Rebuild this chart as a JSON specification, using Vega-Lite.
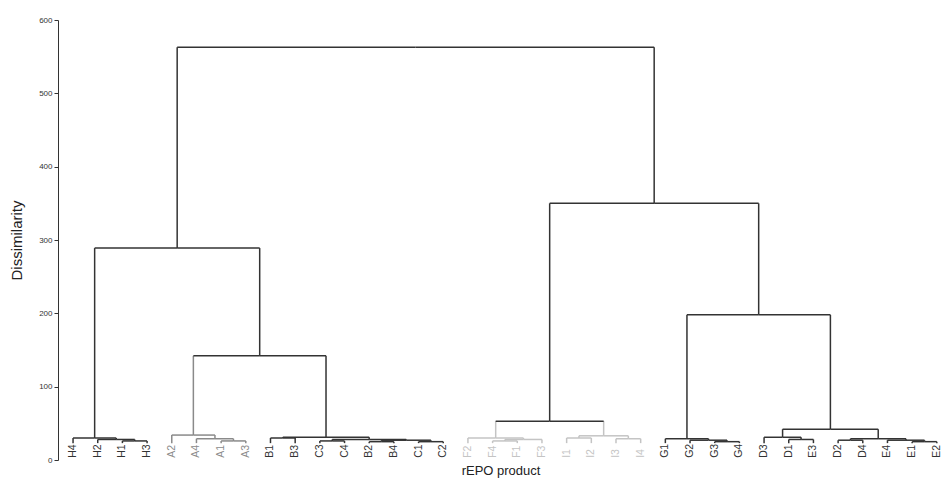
{
  "$schema": "https://vega.github.io/schema/vega-lite/v6.json",
  "width": 885,
  "height": 440,
  "autosize": {"type": "none"},
  "padding": {"left": 58, "top": 20, "right": 0, "bottom": 25},
  "background": "white",
  "config": {"view": {"stroke": null}, "font": "Liberation Sans"},
  "datasets": {
    "nodes": [
      {"id": "H4", "x": 0, "h": 23, "parent": "nH", "cluster": "H", "leaf": true},
      {"id": "H2", "x": 1, "h": 23, "parent": "nH213", "cluster": "H", "leaf": true},
      {"id": "H1", "x": 2, "h": 23, "parent": "nH13", "cluster": "H", "leaf": true},
      {"id": "H3", "x": 3, "h": 23, "parent": "nH13", "cluster": "H", "leaf": true},
      {"id": "A2", "x": 4, "h": 23, "parent": "nA", "cluster": "A", "leaf": true},
      {"id": "A4", "x": 5, "h": 23, "parent": "nA413", "cluster": "A", "leaf": true},
      {"id": "A1", "x": 6, "h": 23, "parent": "nA13", "cluster": "A", "leaf": true},
      {"id": "A3", "x": 7, "h": 23, "parent": "nA13", "cluster": "A", "leaf": true},
      {"id": "B1", "x": 8, "h": 23, "parent": "nB13", "cluster": "BC", "leaf": true},
      {"id": "B3", "x": 9, "h": 23, "parent": "nB13", "cluster": "BC", "leaf": true},
      {"id": "C3", "x": 10, "h": 23, "parent": "nC34", "cluster": "BC", "leaf": true},
      {"id": "C4", "x": 11, "h": 23, "parent": "nC34", "cluster": "BC", "leaf": true},
      {"id": "B2", "x": 12, "h": 23, "parent": "nB24", "cluster": "BC", "leaf": true},
      {"id": "B4", "x": 13, "h": 23, "parent": "nB24", "cluster": "BC", "leaf": true},
      {"id": "C1", "x": 14, "h": 23, "parent": "nC12", "cluster": "BC", "leaf": true},
      {"id": "C2", "x": 15, "h": 23, "parent": "nC12", "cluster": "BC", "leaf": true},
      {"id": "F2", "x": 16, "h": 23, "parent": "nF", "cluster": "F", "leaf": true},
      {"id": "F4", "x": 17, "h": 23, "parent": "nF41", "cluster": "F", "leaf": true},
      {"id": "F1", "x": 18, "h": 23, "parent": "nF41", "cluster": "F", "leaf": true},
      {"id": "F3", "x": 19, "h": 23, "parent": "nF413", "cluster": "F", "leaf": true},
      {"id": "I1", "x": 20, "h": 23, "parent": "nI12", "cluster": "I", "leaf": true},
      {"id": "I2", "x": 21, "h": 23, "parent": "nI12", "cluster": "I", "leaf": true},
      {"id": "I3", "x": 22, "h": 23, "parent": "nI34", "cluster": "I", "leaf": true},
      {"id": "I4", "x": 23, "h": 23, "parent": "nI34", "cluster": "I", "leaf": true},
      {"id": "G1", "x": 24, "h": 23, "parent": "nG", "cluster": "G", "leaf": true},
      {"id": "G2", "x": 25, "h": 23, "parent": "nG234", "cluster": "G", "leaf": true},
      {"id": "G3", "x": 26, "h": 23, "parent": "nG34", "cluster": "G", "leaf": true},
      {"id": "G4", "x": 27, "h": 23, "parent": "nG34", "cluster": "G", "leaf": true},
      {"id": "D3", "x": 28, "h": 23, "parent": "nD", "cluster": "DE", "leaf": true},
      {"id": "D1", "x": 29, "h": 23, "parent": "nD1E3", "cluster": "DE", "leaf": true},
      {"id": "E3", "x": 30, "h": 23, "parent": "nD1E3", "cluster": "DE", "leaf": true},
      {"id": "D2", "x": 31, "h": 23, "parent": "nD24", "cluster": "DE", "leaf": true},
      {"id": "D4", "x": 32, "h": 23, "parent": "nD24", "cluster": "DE", "leaf": true},
      {"id": "E4", "x": 33, "h": 23, "parent": "nE", "cluster": "DE", "leaf": true},
      {"id": "E1", "x": 34, "h": 23, "parent": "nE12", "cluster": "DE", "leaf": true},
      {"id": "E2", "x": 35, "h": 23, "parent": "nE12", "cluster": "DE", "leaf": true},
      {"id": "nH13", "x": 2.5, "h": 26, "parent": "nH213", "cluster": "H", "leaf": false},
      {"id": "nH213", "x": 1.75, "h": 28, "parent": "nH", "cluster": "H", "leaf": false},
      {"id": "nH", "x": 0.875, "h": 30, "parent": "nL", "cluster": "H", "leaf": false},
      {"id": "nA13", "x": 6.5, "h": 26, "parent": "nA413", "cluster": "A", "leaf": false},
      {"id": "nA413", "x": 5.75, "h": 29, "parent": "nA", "cluster": "A", "leaf": false},
      {"id": "nA", "x": 4.875, "h": 34, "parent": "nABC", "cluster": "A", "leaf": false},
      {"id": "nB13", "x": 8.5, "h": 30, "parent": "nBC", "cluster": "BC", "leaf": false},
      {"id": "nC34", "x": 10.5, "h": 26, "parent": "nC", "cluster": "BC", "leaf": false},
      {"id": "nB24", "x": 12.5, "h": 25, "parent": "nBC2", "cluster": "BC", "leaf": false},
      {"id": "nC12", "x": 14.5, "h": 25, "parent": "nBC2", "cluster": "BC", "leaf": false},
      {"id": "nBC2", "x": 13.5, "h": 27, "parent": "nC", "cluster": "BC", "leaf": false},
      {"id": "nC", "x": 12, "h": 28, "parent": "nBC", "cluster": "BC", "leaf": false},
      {"id": "nBC", "x": 10.25, "h": 31, "parent": "nABC", "cluster": "BC", "leaf": false},
      {"id": "nABC", "x": 7.5625, "h": 142, "parent": "nL", "cluster": "top", "leaf": false},
      {"id": "nL", "x": 4.21875, "h": 289, "parent": "root", "cluster": "top", "leaf": false},
      {"id": "nF41", "x": 17.5, "h": 26, "parent": "nF413", "cluster": "F", "leaf": false},
      {"id": "nF413", "x": 18.25, "h": 28, "parent": "nF", "cluster": "F", "leaf": false},
      {"id": "nF", "x": 17.125, "h": 30, "parent": "nFI", "cluster": "F", "leaf": false},
      {"id": "nI12", "x": 20.5, "h": 30, "parent": "nI", "cluster": "I", "leaf": false},
      {"id": "nI34", "x": 22.5, "h": 29, "parent": "nI", "cluster": "I", "leaf": false},
      {"id": "nI", "x": 21.5, "h": 33, "parent": "nFI", "cluster": "I", "leaf": false},
      {"id": "nFI", "x": 19.3125, "h": 53, "parent": "nR", "cluster": "top", "leaf": false},
      {"id": "nG34", "x": 26.5, "h": 25, "parent": "nG234", "cluster": "G", "leaf": false},
      {"id": "nG234", "x": 25.75, "h": 27, "parent": "nG", "cluster": "G", "leaf": false},
      {"id": "nG", "x": 24.875, "h": 29, "parent": "nGDE", "cluster": "G", "leaf": false},
      {"id": "nD1E3", "x": 29.5, "h": 28, "parent": "nD", "cluster": "DE", "leaf": false},
      {"id": "nD", "x": 28.75, "h": 31, "parent": "nDE", "cluster": "DE", "leaf": false},
      {"id": "nD24", "x": 31.5, "h": 27, "parent": "nDE2", "cluster": "DE", "leaf": false},
      {"id": "nE12", "x": 34.5, "h": 25, "parent": "nE", "cluster": "DE", "leaf": false},
      {"id": "nE", "x": 33.75, "h": 27, "parent": "nDE2", "cluster": "DE", "leaf": false},
      {"id": "nDE2", "x": 32.625, "h": 29, "parent": "nDE", "cluster": "DE", "leaf": false},
      {"id": "nDE", "x": 30.6875, "h": 42, "parent": "nGDE", "cluster": "DE", "leaf": false},
      {"id": "nGDE", "x": 27.78125, "h": 198, "parent": "nR", "cluster": "top", "leaf": false},
      {"id": "nR", "x": 23.546875, "h": 350, "parent": "root", "cluster": "top", "leaf": false},
      {"id": "root", "x": 13.8828125, "h": 563, "parent": null, "cluster": "top", "leaf": false}
    ]
  },
  "data": {"name": "nodes"},
  "layer": [
    {
      "transform": [
        {"lookup": "parent", "from": {"data": {"name": "nodes"}, "key": "id", "fields": ["x", "h", "cluster"]}, "as": ["px", "ph", "pcluster"]},
        {"filter": "isValid(datum.parent)"}
      ],
      "mark": {"type": "rule", "strokeWidth": 1.5},
      "encoding": {
        "x": {"field": "x", "type": "quantitative", "scale": {"domain": [-0.61, 35.25], "nice": false, "zero": false},
              "axis": {"title": "rEPO product", "labels": false, "ticks": false, "domain": false, "grid": false, "titleFontSize": 13, "titleFontWeight": "normal", "titleColor": "#222", "titlePadding": 4, "titleFont": "Liberation Sans"}},
        "y": {"field": "h", "type": "quantitative", "scale": {"domain": [0, 600], "nice": false},
              "axis": {"title": "Dissimilarity", "values": [0, 100, 200, 300, 400, 500, 600], "grid": false, "tickSize": 4, "labelPadding": 2, "labelFontSize": 8, "labelColor": "#333", "domainColor": "#333", "tickColor": "#333", "titleFontSize": 15, "titleFontWeight": "normal", "titleColor": "#222", "titlePadding": 14, "titleFont": "Liberation Sans"}},
        "y2": {"field": "ph"},
        "color": {"field": "cluster", "type": "nominal", "legend": null,
                  "scale": {"domain": ["top", "H", "A", "BC", "F", "I", "G", "DE"], "range": ["#333333", "#333333", "#8a8a8a", "#333333", "#c4c4c4", "#c4c4c4", "#333333", "#333333"]}}
      }
    },
    {
      "transform": [
        {"lookup": "parent", "from": {"data": {"name": "nodes"}, "key": "id", "fields": ["x", "h", "cluster"]}, "as": ["px", "ph", "pcluster"]},
        {"filter": "isValid(datum.parent) && datum.parent != 'root'"}
      ],
      "mark": {"type": "rule", "strokeWidth": 1.5},
      "encoding": {
        "x": {"field": "x", "type": "quantitative"},
        "x2": {"field": "px"},
        "y": {"field": "ph", "type": "quantitative"},
        "color": {"field": "pcluster", "type": "nominal", "legend": null}
      }
    },
    {
      "transform": [
        {"lookup": "parent", "from": {"data": {"name": "nodes"}, "key": "id", "fields": ["x", "h"]}, "as": ["px", "ph"]},
        {"filter": "datum.parent == 'root'"}
      ],
      "mark": {"type": "rule", "strokeWidth": 1.5},
      "encoding": {
        "x": {"field": "x", "type": "quantitative"},
        "x2": {"field": "px"},
        "y": {"field": "ph", "type": "quantitative"},
        "color": {"value": "#333333"}
      }
    },
    {
      "transform": [{"filter": "datum.leaf"}],
      "mark": {"type": "text", "angle": 270, "align": "left", "baseline": "middle", "fontSize": 10.5, "font": "Liberation Sans"},
      "encoding": {
        "x": {"field": "x", "type": "quantitative"},
        "y": {"datum": 3, "type": "quantitative"},
        "text": {"field": "id"},
        "color": {"field": "cluster", "type": "nominal", "legend": null}
      }
    }
  ]
}
